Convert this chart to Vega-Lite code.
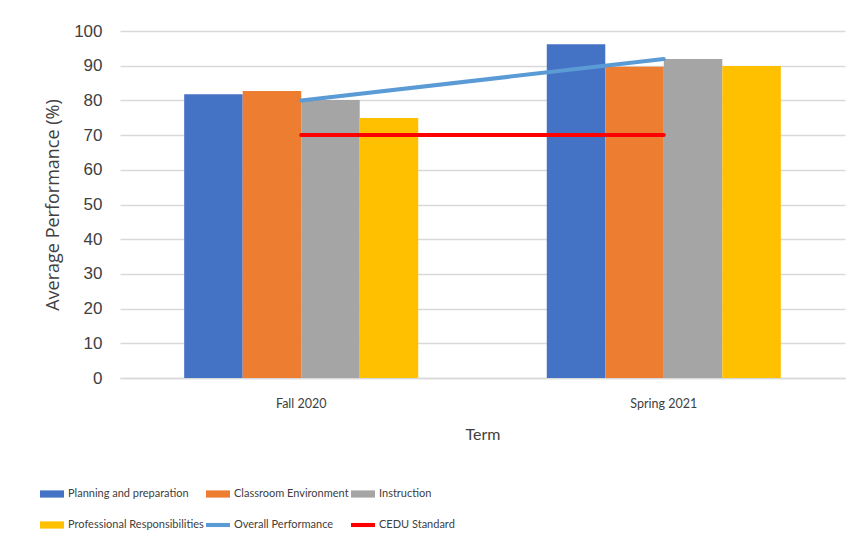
{
  "$schema": "https://vega.github.io/schema/vega-lite/v6.json",
  "width": 725,
  "height": 347,
  "autosize": {"type": "none"},
  "padding": {"left": 120, "top": 31, "right": 11, "bottom": 172},
  "background": "white",
  "config": {
    "view": {"stroke": null},
    "axis": {"gridColor": "#d9d9d9", "gridWidth": 1.5, "domainColor": "#d9d9d9", "domainWidth": 1.5, "labelColor": "#404040", "titleColor": "#404040", "titleFontWeight": "normal"}
  },
  "datasets": {
    "bars": [
      {"Term": "Fall 2020", "Series": "Planning and preparation", "Value": 81.8},
      {"Term": "Fall 2020", "Series": "Classroom Environment", "Value": 82.7},
      {"Term": "Fall 2020", "Series": "Instruction", "Value": 80.1},
      {"Term": "Fall 2020", "Series": "Professional Responsibilities", "Value": 74.9},
      {"Term": "Spring 2021", "Series": "Planning and preparation", "Value": 96.2},
      {"Term": "Spring 2021", "Series": "Classroom Environment", "Value": 89.7},
      {"Term": "Spring 2021", "Series": "Instruction", "Value": 91.9},
      {"Term": "Spring 2021", "Series": "Professional Responsibilities", "Value": 89.9}
    ],
    "lines": [
      {"Term": "Fall 2020", "Series": "Overall Performance", "Value": 80},
      {"Term": "Spring 2021", "Series": "Overall Performance", "Value": 91.9},
      {"Term": "Fall 2020", "Series": "CEDU Standard", "Value": 70},
      {"Term": "Spring 2021", "Series": "CEDU Standard", "Value": 70}
    ]
  },
  "encoding": {
    "x": {
      "field": "Term", "type": "nominal", "sort": ["Fall 2020", "Spring 2021"],
      "scale": {"paddingInner": 0.3545, "paddingOuter": 0.177},
      "axis": {"labelAngle": 0, "ticks": false, "grid": false, "labelFont": "Lato", "labelFontSize": 12.5, "labelPadding": 19, "title": "Term", "titleFont": "Lato", "titleFontSize": 16, "titlePadding": 17}
    },
    "y": {
      "field": "Value", "type": "quantitative",
      "scale": {"domain": [0, 100]},
      "axis": {"values": [0, 10, 20, 30, 40, 50, 60, 70, 80, 90, 100], "domain": false, "ticks": false, "labelFont": "Liberation Sans", "labelFontSize": 17, "labelPadding": 18, "title": "Average Performance (%)", "titleFont": "Open Sans", "titleFontSize": 18, "titlePadding": 11}
    }
  },
  "layer": [
    {
      "data": {"name": "bars"},
      "mark": {"type": "bar"},
      "encoding": {
        "xOffset": {"field": "Series", "type": "nominal", "sort": ["Planning and preparation", "Classroom Environment", "Instruction", "Professional Responsibilities"], "scale": {"paddingInner": 0, "paddingOuter": 0}},
        "color": {
          "field": "Series", "type": "nominal",
          "scale": {
            "domain": ["Planning and preparation", "Classroom Environment", "Instruction", "Professional Responsibilities", "Overall Performance", "CEDU Standard"],
            "range": ["#4472c4", "#ed7d31", "#a5a5a5", "#ffc000", "#5b9bd5", "#ff0000"]
          },
          "legend": {
            "orient": "none", "legendX": -80, "legendY": 451, "columns": 3, "direction": "horizontal", "gridAlign": "each",
            "columnPadding": 2, "rowPadding": 14, "padding": 0, "title": null,
            "symbolType": "M-1,-0.3H1V0.3H-1Z", "symbolSize": 576, "symbolStrokeWidth": 0,
            "labelFont": "Lato", "labelFontSize": 11, "labelOffset": 4, "labelColor": "#404040",
            "encode": {"symbols": {"update": {
              "shape": {"signal": "datum.value == 'Overall Performance' || datum.value == 'CEDU Standard' ? 'M-1,-0.17H1V0.17H-1Z' : 'M-1,-0.3H1V0.3H-1Z'"},
              "fill": {"scale": "color", "field": "value"},
              "stroke": {"value": "transparent"},
              "opacity": {"value": 1}
            }}}
          }
        }
      }
    },
    {
      "data": {"name": "lines"},
      "mark": {"type": "line", "strokeWidth": 4, "strokeCap": "round"},
      "encoding": {
        "color": {"field": "Series", "type": "nominal"},
        "detail": {"field": "Series", "type": "nominal"}
      }
    }
  ]
}
